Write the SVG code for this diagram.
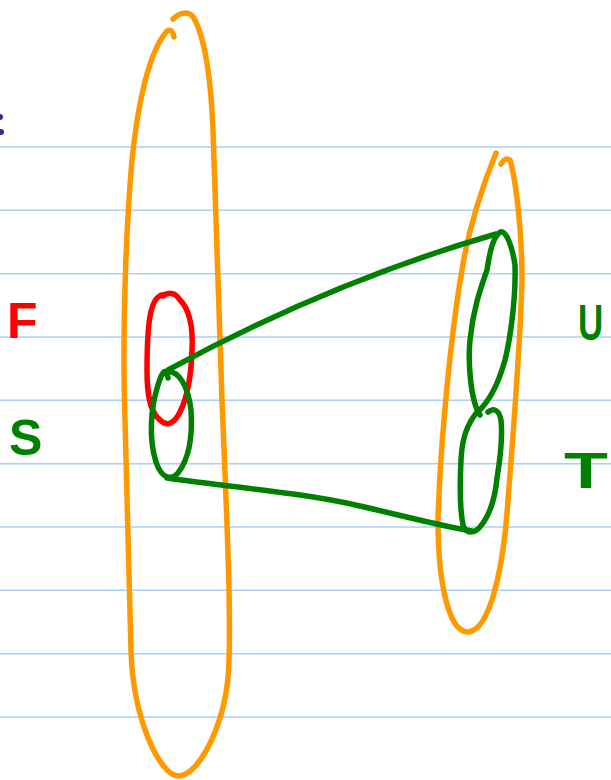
<svg xmlns="http://www.w3.org/2000/svg" width="611" height="780" viewBox="0 0 611 780">
<style>
.rule{stroke:#a9d0f7;stroke-width:1.6;fill:none}
.ink{fill:none;stroke-width:5.5;stroke-linecap:round;stroke-linejoin:round}
.orange{stroke:#ff9900}
.green{stroke:#008000}
.red{stroke:#ff0000}
.lbl{font-family:"Liberation Sans","DejaVu Sans",sans-serif;font-size:50px;font-weight:bold}
</style>
<rect width="611" height="780" fill="#ffffff"/>
<g id="paper">
<line class="rule" x1="0" y1="147" x2="611" y2="147"/>
<line class="rule" x1="0" y1="210.3" x2="611" y2="210.3"/>
<line class="rule" x1="0" y1="273.7" x2="611" y2="273.7"/>
<line class="rule" x1="0" y1="337" x2="611" y2="337"/>
<line class="rule" x1="0" y1="400.3" x2="611" y2="400.3"/>
<line class="rule" x1="0" y1="463.7" x2="611" y2="463.7"/>
<line class="rule" x1="0" y1="527" x2="611" y2="527"/>
<line class="rule" x1="0" y1="590.3" x2="611" y2="590.3"/>
<line class="rule" x1="0" y1="653.7" x2="611" y2="653.7"/>
<line class="rule" x1="0" y1="717" x2="611" y2="717"/>
<circle cx="0" cy="117" r="3" fill="#2e2e9a"/>
<circle cx="1" cy="132" r="3" fill="#2e2e9a"/>
</g>
<g id="left-set">
<path class="ink orange" d="M174,37 Q172,28 167,31 C150,50 138,100 132,160 C126,230 122,330 125,420 C128,520 130,600 131,650 C133,720 160,775 178,776 C200,776 228,720 229,660 C231,600 226,500 222,400 C219,300 216,200 213,130 C211,80 205,40 195,20 C190,10 180,12 173,19"/>
</g>
<g id="right-set">
<path class="ink orange" d="M501,164 Q505,157 510,160 C516,180 522,230 522,280 C520,350 512,450 508,500 C504,560 492,630 468,632 C448,632 438,580 438,520 C440,450 450,340 462,270 C470,220 485,180 496,153"/>
</g>
<g id="F-set">
<path class="ink red" d="M163,296 C168,292 175,292 180,300 C190,310 193,330 192,350 C191,380 186,400 180,412 C175,422 168,428 160,420 C150,412 147,395 147,370 C147,340 148,320 152,308 C155,298 160,294 165,295"/>
</g>
<g id="S-set">
<path class="ink green" d="M167,372 C178,370 188,385 191,410 C193,440 188,460 178,473 C172,480 162,480 156,462 C149,440 150,410 158,385 C162,372 166,366 168,378"/>
</g>
<g id="U-set">
<path class="ink green" d="M480,415 C470,400 468,360 470,340 C473,310 480,290 487,270 C490,250 493,238 500,232 C506,230 512,245 515,265 C516,300 510,340 505,360 C498,385 490,400 477,413"/>
</g>
<g id="T-set">
<path class="ink green" d="M488,412 C493,408 499,409 501,420 C503,440 500,460 497,478 C495,500 490,515 480,527 C475,533 466,535 463,525 C459,505 460,480 461,460 C462,440 466,425 478,411"/>
</g>
<g id="connectors">
<path class="ink green" d="M168,370 Q330,282 496,234"/>
<path class="ink green" d="M167,478 C220,486 300,492 360,506 C400,515 440,526 472,531"/>
</g>
<g id="labels">
<text class="lbl" x="7" y="338" fill="#ff0000">F</text>
<text class="lbl" x="9" y="455" fill="#008000">S</text>
<text class="lbl" transform="translate(578,340) scale(0.7,1)" x="0" y="0" fill="#008000">U</text>
<text class="lbl" transform="translate(564,488) scale(1.44,1)" x="0" y="0" fill="#008000">T</text>
</g>
</svg>
